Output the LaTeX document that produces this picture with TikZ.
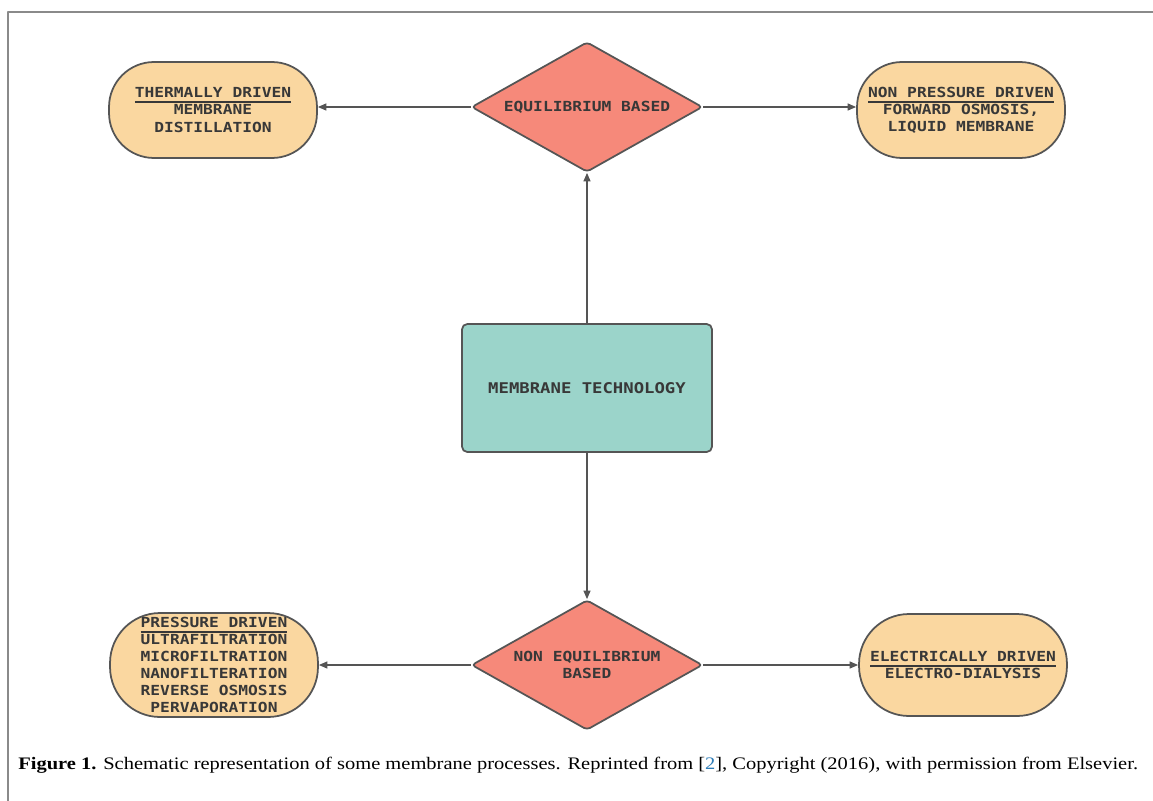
\documentclass[tikz,border=0pt]{standalone}
\usepackage{fontspec}
\setmainfont{Liberation Serif}
\setmonofont[FakeStretch=1.17]{DejaVu Sans Mono}
\usetikzlibrary{shapes.geometric,arrows.meta}
\definecolor{peach}{HTML}{FAD7A0}
\definecolor{salmon}{HTML}{F6897A}
\definecolor{techteal}{HTML}{9BD4CA}
\definecolor{edgegray}{HTML}{555555}
\definecolor{inkgray}{HTML}{383838}
\definecolor{framegray}{HTML}{8A8A8A}
\definecolor{citeblue}{HTML}{2E7DB8}
\newcommand\hdr[1]{\setbox0\hbox{#1}\rlap{\smash{\rule[-3.1pt]{\wd0}{1.1pt}}}\box0}
\begin{document}
\begin{tikzpicture}[x=0.02cm,y=-0.02cm,>={Triangle[length=1.7mm,width=1.4mm]},line join=round]
	\tikzset{proc/.style={draw=edgegray,line width=1pt,fill=peach,rounded corners=0.9cm,minimum width=4.16cm,minimum height=1.92cm,align=center,text=inkgray,font=\ttfamily\bfseries\fontsize{7.9}{9.7}\selectfont,inner sep=2pt},
		dec/.style={diamond,draw=edgegray,line width=1pt,fill=salmon,rounded corners=2pt,minimum width=4.62cm,minimum height=2.6cm,shape aspect=1.78,inner sep=0pt,align=center,text=inkgray,font=\ttfamily\bfseries\fontsize{7.9}{9.7}\selectfont},
		techbox/.style={draw=edgegray,line width=1pt,fill=techteal,rounded corners=3pt,minimum width=5cm,minimum height=2.56cm,text=inkgray,font=\ttfamily\bfseries\fontsize{8.4}{10}\selectfont},
		conn/.style={->,draw=edgegray,line width=0.7pt}}
	\useasboundingbox (0,0) rectangle (1153,801);
	\draw[framegray,line width=1.1pt] (8,801) -- (8,12) -- (1153,12);
	% top row
	\node[proc] (thermal) at (213,110) {\hdr{THERMALLY DRIVEN}\\MEMBRANE\\DISTILLATION};
	\node[dec] (eqb) at (587,107) {EQUILIBRIUM BASED};
	\node[proc] (nonpress) at (961,110) {\hdr{NON PRESSURE DRIVEN}\\FORWARD OSMOSIS,\\LIQUID MEMBRANE};
	% middle
	\node[techbox] (tech) at (587,388) {MEMBRANE TECHNOLOGY};
	% bottom row
	\node[dec] (neqb) at (587,665) {NON EQUILIBRIUM\\BASED};
	\node[proc,minimum height=2.08cm,rounded corners=1cm] (press) at (214,665) {\hdr{PRESSURE DRIVEN}\\ULTRAFILTRATION\\MICROFILTRATION\\NANOFILTERATION\\REVERSE OSMOSIS\\PERVAPORATION};
	\node[proc,minimum height=2.04cm,rounded corners=1cm] (elec) at (963,665) {\hdr{ELECTRICALLY DRIVEN}\\ELECTRO-DIALYSIS};
	\draw[conn] (eqb.west) -- (eqb.west -| thermal.east);
	\draw[conn] (eqb.east) -- (eqb.east -| nonpress.west);
	\draw[conn] (tech.north) -- (eqb.south);
	\draw[conn] (tech.south) -- (neqb.north);
	\draw[conn] (neqb.west) -- (press.east);
	\draw[conn] (neqb.east) -- (elec.west);
	% caption
	\node[anchor=west,inner sep=0pt] (cap) at (18,765) {\resizebox{22.4cm}{\height}{\fontsize{10}{12}\selectfont\textbf{Figure 1.} Schematic representation of some membrane processes. Reprinted from [{\color{citeblue}2}], Copyright (2016), with permission from Elsevier.}};
\end{tikzpicture}
\end{document}
